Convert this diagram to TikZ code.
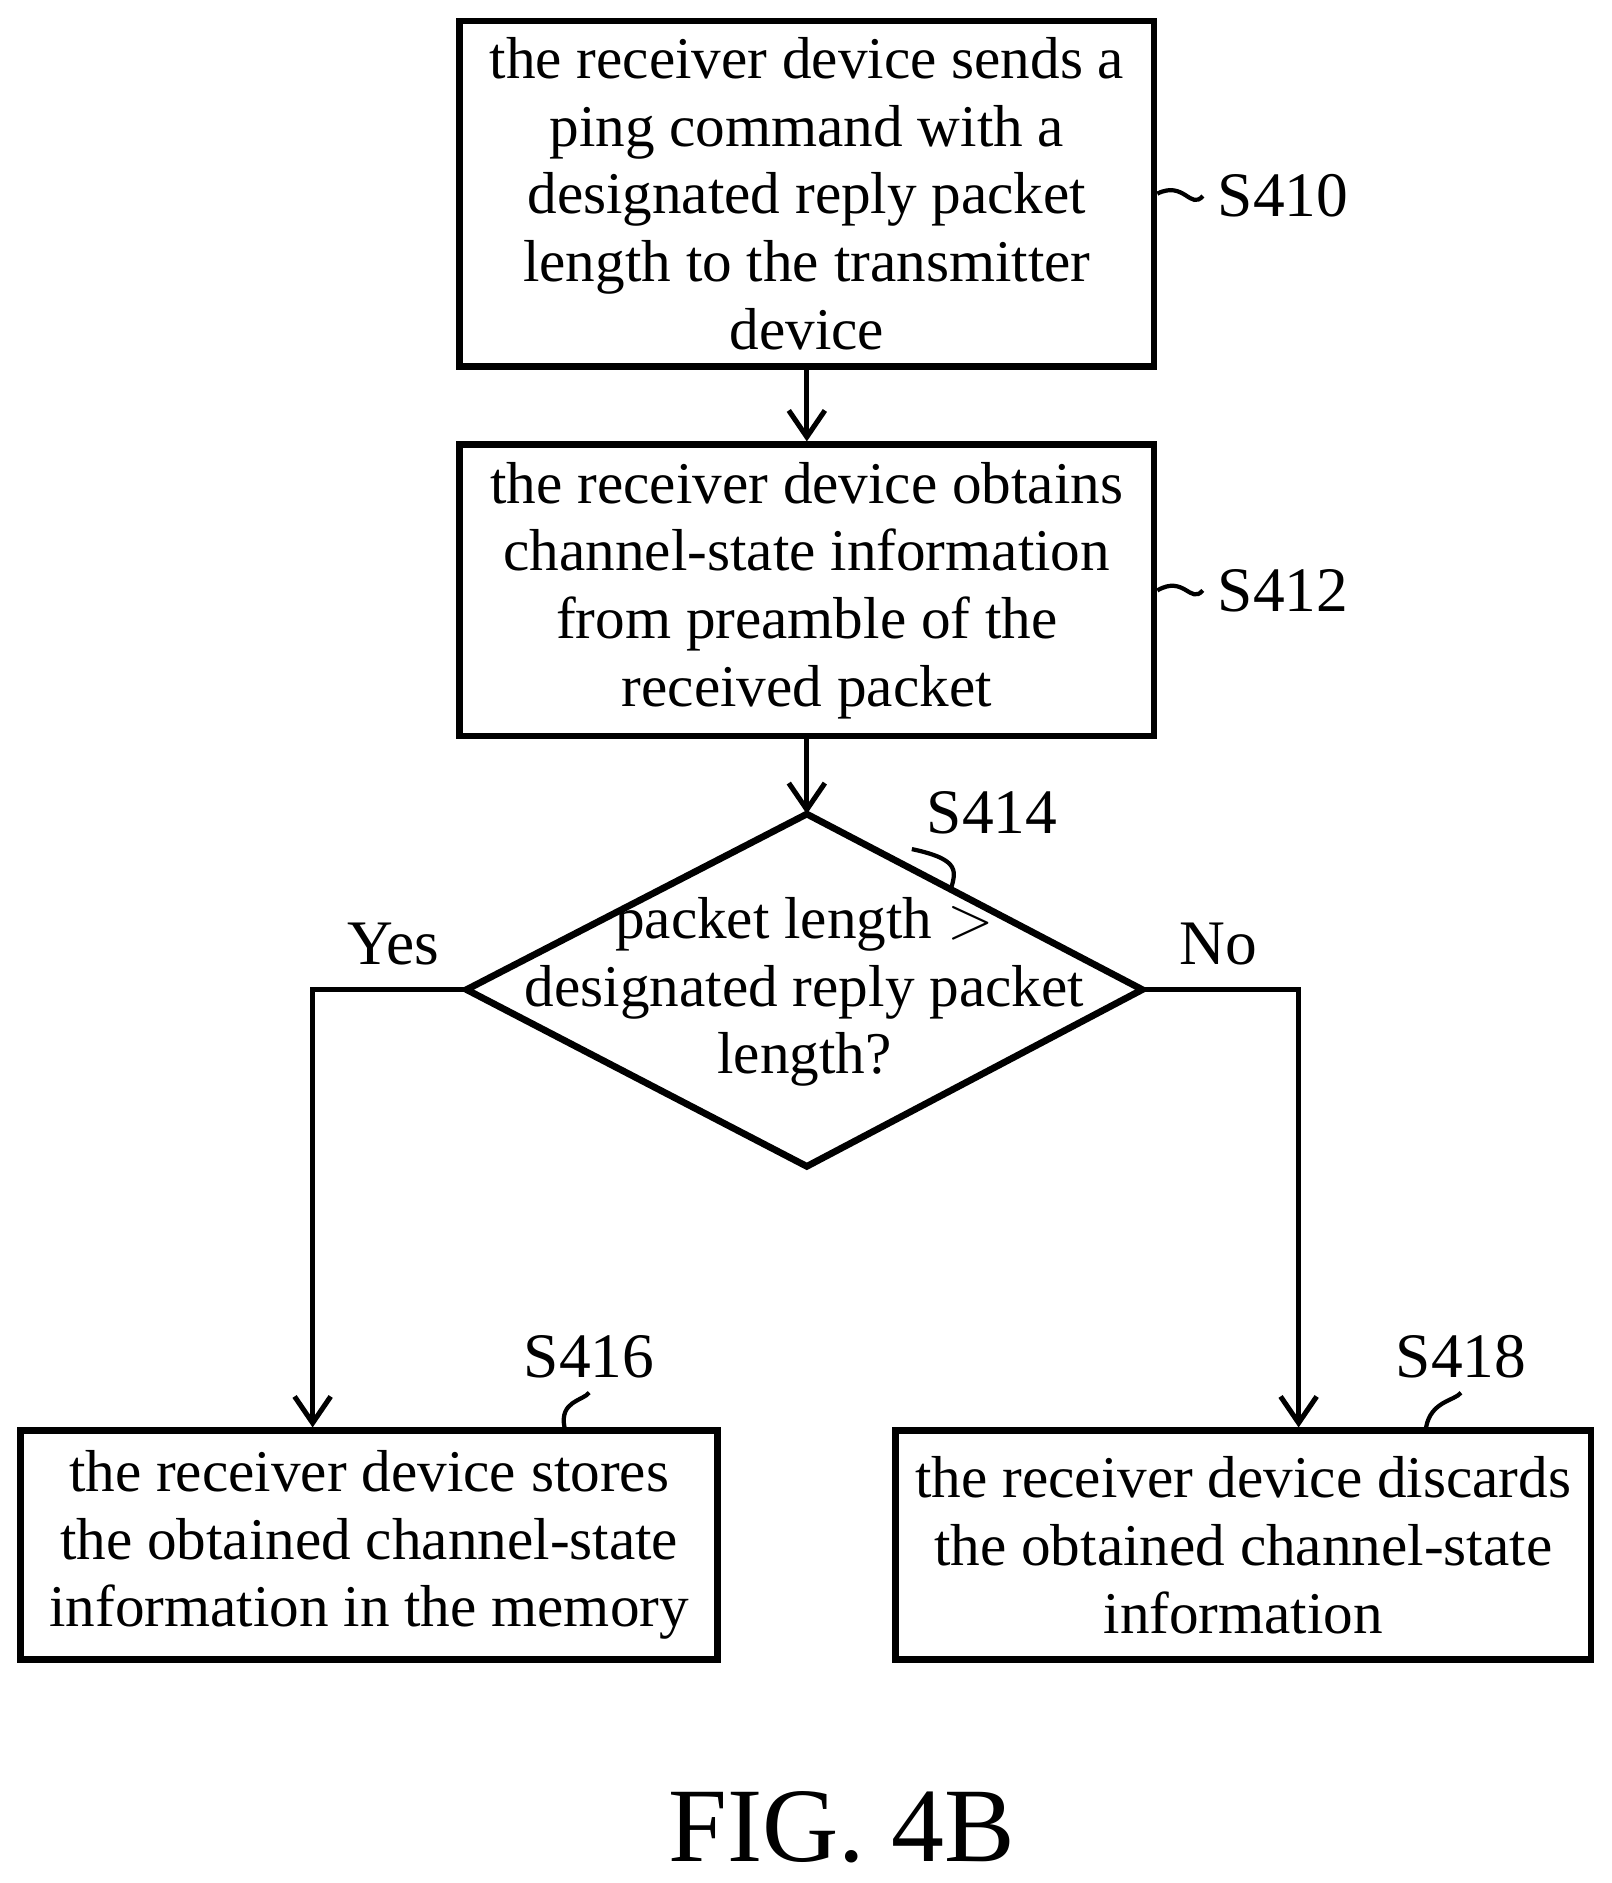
\documentclass[tikz,border=0pt]{standalone}
\usepackage{fontspec}
\setmainfont{Liberation Serif}
\usetikzlibrary{positioning, calc, shapes.geometric, arrows.meta}

\begin{document}
\begin{tikzpicture}[x=0.01cm, y=-0.01cm,
    proc/.style={draw, line width=1.6pt, align=center, inner sep=0pt,
        font=\fontsize{14}{16}\selectfont},
    flow/.style={draw, line width=1.2pt, -{Straight Barb[length=2.2mm, width=3mm]}},
    tag/.style={font=\fontsize{15}{17}\selectfont}]

        \useasboundingbox (0,0) rectangle (1340,1566);

        % process steps
        \node[proc, minimum width=5.77cm, minimum height=2.87cm] (s410) at (671,161)
            {the receiver device sends a\\ping command with a\\designated reply packet\\length to the transmitter\\device};
        \node[proc, minimum width=5.77cm, minimum height=2.42cm] (s412) at (671,491)
            {the receiver device obtains\\channel-state information\\from preamble of the\\received packet};
        \node[proc, minimum width=5.79cm, minimum height=1.9cm] (s416) at (307,1285)
            {the receiver device stores\\the obtained channel-state\\information in the memory};
        \node[proc, minimum width=5.78cm, minimum height=1.9cm] (s418) at (1034,1285)
            {the receiver device discards\\the obtained channel-state\\information};

        % decision
        \coordinate (dtop) at (671,677);
        \coordinate (dleft) at (388,823);
        \coordinate (dright) at (950,823);
        \coordinate (dbot) at (671,970);
        \draw[line width=1.6pt] (dtop) -- (dright) -- (dbot) -- (dleft) -- cycle;
        \node[proc, draw=none] (s414) at (669,825)
            {packet length $>$\\designated reply packet\\length?};

        % step labels
        \node[tag] (l410) at (1067,163) {S410};
        \node[tag] (l412) at (1067,491) {S412};
        \node[tag] (l414) at (825,676) {S414};
        \node[tag] (l416) at (490,1128) {S416};
        \node[tag] (l418) at (1215,1128) {S418};
        \draw[line width=1pt] (s410.east) .. controls (985,150) and (990,175) .. (l410.west);
        \draw[line width=1pt] (s412.east) .. controls (985,478) and (990,503) .. (l412.west);
        \draw[line width=1pt] (l414.south west) .. controls (800,715) and (795,725) .. (790,742);
        \draw[line width=1pt] (l416.south) .. controls (485,1165) and (465,1165) .. ($(s416.north east)+(-130,0)$);
        \draw[line width=1pt] (l418.south) .. controls (1210,1165) and (1190,1165) .. ($(s418.north east)+(-140,0)$);

        % connectors
        \coordinate (yesturn) at (260,823);
        \coordinate (noturn) at (1080,823);
        \draw[flow] (s410) -- (s412);
        \draw[flow] (s412) -- (dtop);
        \draw[flow] (dleft) -- (yesturn) -- (yesturn |- s416.north);
        \draw[flow] (dright) -- (noturn) -- (noturn |- s418.north);
        \node[tag] (yes) at (327,785) {Yes};
        \node[tag] (no) at (1013,785) {No};

        \node[font=\fontsize{25}{28}\selectfont] (fig) at (700,1520) {FIG.\ 4B};
    \end{tikzpicture}
\end{document}
